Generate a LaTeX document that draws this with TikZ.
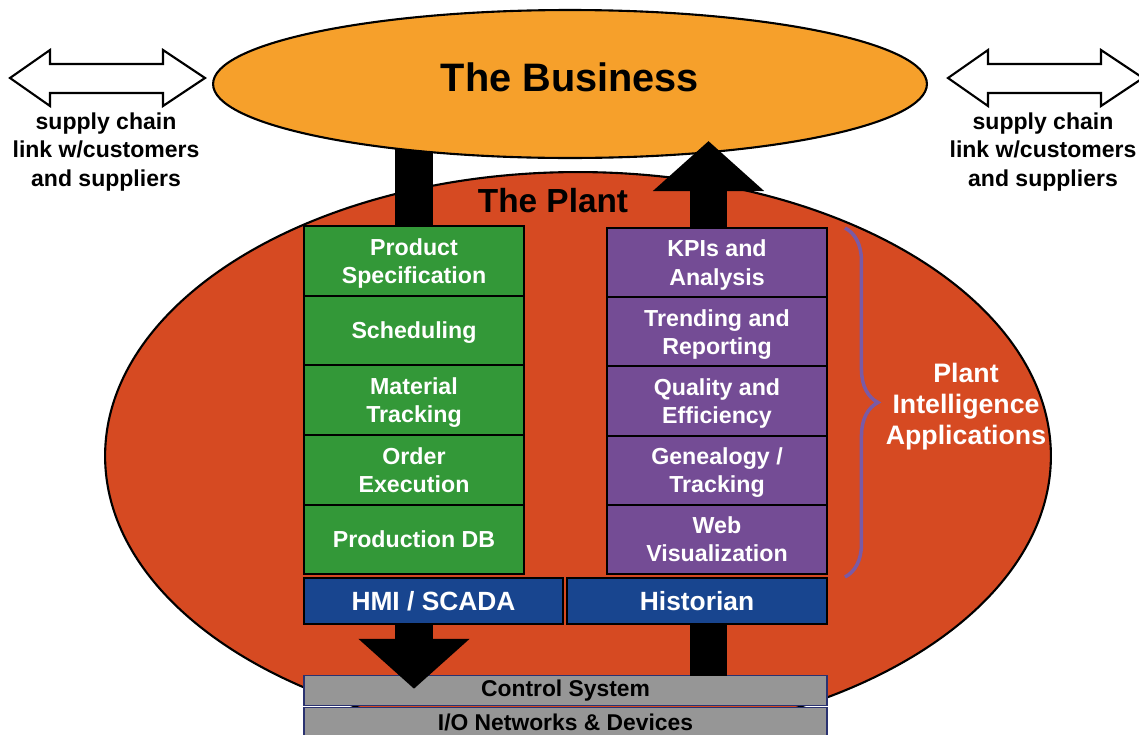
\documentclass[tikz,border=0pt]{standalone}
\usepackage{fontspec}
\setmainfont{Liberation Sans}
\usepackage{tikz}
\usetikzlibrary{positioning, shapes.geometric, arrows.meta, decorations.pathreplacing}

\definecolor{bizorange}{HTML}{F6A02B}
\definecolor{plantred}{HTML}{D64A22}
\definecolor{mesgreen}{HTML}{339838}
\definecolor{pipurple}{HTML}{744C95}
\definecolor{ctrlblue}{HTML}{18458F}
\definecolor{iogray}{HTML}{969696}
\definecolor{ionavy}{HTML}{2A3270}
\definecolor{bracepurple}{HTML}{7A5AA6}

\newcommand{\boldsize}[2]{\fontsize{#1}{#2}\selectfont\bfseries}

\tikzset{
  box/.style={draw=black, line width=1.2pt, inner sep=0pt, outer sep=0pt, align=center, text=white, text depth=0pt, font=\boldsize{13.2}{16}},
  mesbox/.style={box, fill=mesgreen, minimum width=4.4cm, minimum height=1.392cm},
  pibox/.style={box, fill=pipurple, minimum width=4.4cm, minimum height=1.384cm},
  ctrlbox/.style={box, fill=ctrlblue, minimum height=0.92cm, font=\boldsize{15}{18}},
  iobox/.style={draw=ionavy, line width=0.8pt, fill=iogray, inner sep=0pt, outer sep=0pt, minimum width=10.46cm, minimum height=0.59cm, font=\boldsize{13}{16}},
  shaft/.style={draw=black, line width=0.75cm},
  bigarrow/.style={shaft, -{Triangle[width=2.17cm, length=1cm]}},
  sctext/.style={align=center, inner sep=0pt, font=\boldsize{13.1}{16.2}}
}

\begin{document}
\begin{tikzpicture}[x=0.02cm, y=-0.02cm]
\useasboundingbox (0,0) rectangle (1139,734);

\node[ellipse, draw=black, line width=1.2pt, fill=plantred, minimum width=18.92cm, minimum height=11.36cm, inner sep=0pt] (plant) at (578,456) {};
\node[font=\boldsize{19}{23}] (plantlabel) at (553,201) {The Plant};

\node[mesbox] (spec) at (414,261) {Product\\Specification};
\node[mesbox, below=0pt of spec] (sched) {Scheduling};
\node[mesbox, below=0pt of sched] (track) {Material\\Tracking};
\node[mesbox, below=0pt of track] (order) {Order\\Execution};
\node[mesbox, below=0pt of order] (proddb) {Production DB};

\node[pibox] (kpi) at (717,262.6) {KPIs and\\Analysis};
\node[pibox, below=0pt of kpi] (trend) {Trending and\\Reporting};
\node[pibox, below=0pt of trend] (quality) {Quality and\\Efficiency};
\node[pibox, below=0pt of quality] (genealogy) {Genealogy /\\Tracking};
\node[pibox, below=0pt of genealogy] (webvis) {Web\\Visualization};

\node[ctrlbox, minimum width=5.18cm] (hmi) at (433.5,601) {HMI / SCADA};
\node[ctrlbox, minimum width=5.2cm] (hist) at (697,601) {Historian};

\node[iobox] (ctrl) at (565.5,690.5) {Control System};
\node[iobox, below=0.05cm of ctrl] (ionet) {I/O Networks \& Devices};

\coordinate (bizc) at (570,84);
\draw[shaft] (spec.north) -- (spec.north |- bizc);
\node[ellipse, draw=black, line width=1.2pt, fill=bizorange, minimum width=14.28cm, minimum height=2.96cm, inner sep=0pt, text depth=8pt, font=\boldsize{22.6}{27}] (business) at (bizc) {The Business};
\draw[bigarrow] ([xshift=-0.17cm]kpi.north) -- ([xshift=-0.17cm, yshift=0.36cm]kpi.north |- business.south);

\draw[bigarrow] (spec.south |- hmi.south) -- ([yshift=-0.26cm]spec.south |- ctrl.north);
\draw[shaft] ([xshift=-0.17cm]kpi.south |- ctrl.north) -- ([xshift=-0.17cm]kpi.south |- hist.south);

\foreach \dx in {0,938}
  \draw[line width=1.2pt, fill=white, shift={(\dx,0)}] (10,78) -- (50,50) -- (50,64) -- (163,64) -- (163,50) -- (205,78) -- (163,106) -- (163,93) -- (50,93) -- (50,106) -- cycle;
\node[sctext] (scleft) at (106,152) {supply chain\\link w/customers\\and suppliers};
\node[sctext] (scright) at (1043,152) {supply chain\\link w/customers\\and suppliers};

\coordinate (bracetop) at ([xshift=0.36cm]kpi.north east);
\coordinate (bracebot) at ([xshift=0.36cm, yshift=-0.06cm]webvis.south east);
\draw[bracepurple, line width=2pt, decorate, decoration={brace, amplitude=0.66cm}] (bracetop) -- (bracebot);
\node[text=white, align=center, font=\boldsize{15.2}{17.6}] (pia) at (966,407) {Plant\\Intelligence\\Applications};
\end{tikzpicture}
\end{document}
